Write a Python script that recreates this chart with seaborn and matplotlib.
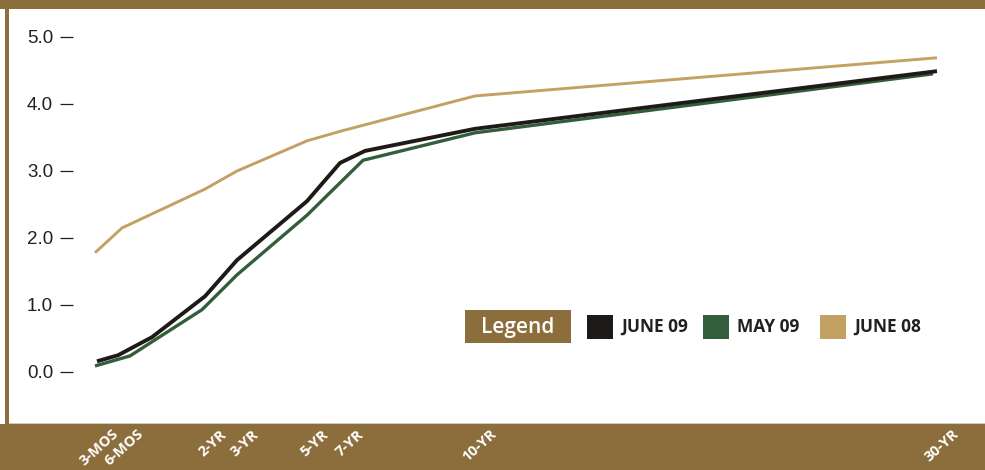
import matplotlib
matplotlib.use("Agg")
import matplotlib.pyplot as plt
import seaborn as sns
import pandas as pd
from matplotlib.patches import Rectangle

# ---- data (x on the chart's own maturity scale, y in percent) ----
maturities = ["3-MOS", "6-MOS", "2-YR", "3-YR", "5-YR", "7-YR", "10-YR", "30-YR"]
maturity_pos = [0.00, 0.25, 1.08, 1.40, 2.10, 2.45, 3.78, 8.40]

june09_x = [0.00, 0.21, 0.55, 1.08, 1.40, 2.10, 2.43, 2.68, 3.78, 8.40]
june09_y = [0.16, 0.25, 0.52, 1.13, 1.67, 2.55, 3.12, 3.30, 3.63, 4.49]

may09_x = [-0.02, 0.33, 1.05, 1.40, 2.10, 2.66, 3.78, 8.36]
may09_y = [0.09, 0.24, 0.93, 1.45, 2.34, 3.16, 3.57, 4.45]

june08_x = [-0.02, 0.25, 1.08, 1.40, 2.10, 2.45, 3.78, 8.40]
june08_y = [1.78, 2.15, 2.73, 3.00, 3.45, 3.60, 4.12, 4.69]

y_ticks = [0, 1, 2, 3, 4, 5]
y_tick_labels = ["0.0", "1.0", "2.0", "3.0", "4.0", "5.0"]

series_names = ["JUNE 09", "MAY 09", "JUNE 08"]

# ---- style ----
BROWN = "#8C6E3C"
BLACK = "#1E1A17"
GREEN = "#335E3C"
GOLD = "#C3A163"
TXT = "#231F20"

sns.set_theme(style="white")
plt.rcParams["font.family"] = ["Liberation Sans", "DejaVu Sans"]

W, H = 985, 470
fig = plt.figure(figsize=(W / 100, H / 100), dpi=100, facecolor="white")

def fx(px):
    return px / W

def fy(py_top):
    return 1 - py_top / H

# axes: x 60..985, y 10..424 (pixels from top)
ax = fig.add_axes([fx(60), fy(424), fx(985 - 60), (424 - 10) / H])
ax.set_facecolor("white")

df08 = pd.DataFrame({"x": june08_x, "y": june08_y})
df05 = pd.DataFrame({"x": may09_x, "y": may09_y})
df09 = pd.DataFrame({"x": june09_x, "y": june09_y})

sns.lineplot(data=df08, x="x", y="y", ax=ax, color=GOLD, linewidth=2.1,
             sort=False, estimator=None, solid_joinstyle="miter", solid_capstyle="butt")
sns.lineplot(data=df05, x="x", y="y", ax=ax, color=GREEN, linewidth=2.4,
             sort=False, estimator=None, solid_joinstyle="miter", solid_capstyle="butt")
sns.lineplot(data=df09, x="x", y="y", ax=ax, color=BLACK, linewidth=2.8,
             sort=False, estimator=None, solid_joinstyle="miter", solid_capstyle="butt")

ax.set_xlim((60 - 97) / 100, (985 - 97) / 100)
ax.set_ylim((372 - 424) / 67, (372 - 10) / 67)
ax.set_xlabel("")
ax.set_ylabel("")
for s in ax.spines.values():
    s.set_visible(False)

ax.set_yticks(y_ticks)
ax.set_yticklabels(y_tick_labels)
ax.tick_params(axis="y", direction="in", length=9.5, width=0.9, color=TXT,
               labelsize=13.5, labelcolor=TXT, pad=5, left=True)
ax.set_xticks([])

# ---- frame ----
fig.add_artist(Rectangle((0, fy(9)), 1, 9 / H, transform=fig.transFigure,
                         facecolor=BROWN, edgecolor="none", zorder=0))
fig.add_artist(Rectangle((fx(5), fy(424)), 4 / W, (424 - 0) / H, transform=fig.transFigure,
                         facecolor=BROWN, edgecolor="none", zorder=0))
fig.add_artist(Rectangle((0, 0), 1, (H - 424) / H, transform=fig.transFigure,
                         facecolor=BROWN, edgecolor="none", zorder=0))
fig.add_artist(Rectangle((fx(9), fy(424)), 1, 1 / H, transform=fig.transFigure,
                         facecolor="#CFC9C0", edgecolor="none", zorder=1))

# ---- x category labels in the band ----
for lab, pos in zip(maturities, maturity_pos):
    xpix = 97 + pos * 100 + 15
    fig.text(fx(xpix), fy(427), lab, color="white", fontsize=10.5, fontweight="bold",
             family=["Open Sans", "DejaVu Sans"], rotation=42, rotation_mode="anchor",
             ha="right", va="top")

# ---- legend ----
fig.add_artist(Rectangle((fx(465), fy(343)), 106 / W, 33 / H, transform=fig.transFigure,
                         facecolor=BROWN, edgecolor="none"))
fig.text(fx(518), fy(327), "Legend", color="white", fontsize=15, fontweight="semibold",
         family=["Open Sans", "DejaVu Sans"], ha="center", va="center")
sw_x = [587, 703, 820]
sw_col = [BLACK, GREEN, GOLD]
for x0, c, name in zip(sw_x, sw_col, series_names):
    fig.add_artist(Rectangle((fx(x0), fy(339)), 26 / W, 24 / H, transform=fig.transFigure,
                             facecolor=c, edgecolor="none"))
    fig.text(fx(x0 + 34), fy(327), name, color=TXT, fontsize=12.5, fontweight="bold",
             family=["Open Sans", "DejaVu Sans"], ha="left", va="center")

fig.savefig("out.png", dpi=100, facecolor="white")
